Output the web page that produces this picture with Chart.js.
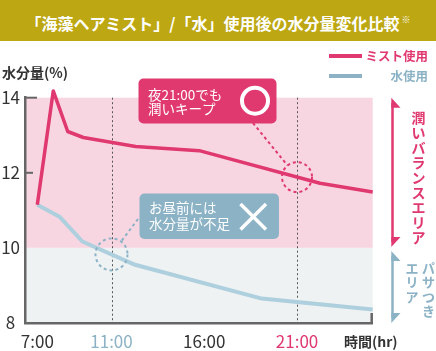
<!DOCTYPE html>
<html lang="ja">
<head>
<meta charset="utf-8">
<script src="https://cdn.jsdelivr.net/npm/chart.js@4.4.1/dist/chart.umd.min.js"></script>
<style>
body{margin:0;background:#fff;}
#wrap{position:relative;width:436px;height:351px;}
#wrap canvas{position:absolute;left:0;top:0;}
#title{position:absolute;left:0;top:0;width:436px;height:41px;background:#bda712;color:#fff;
  font:bold 16px 'Noto Sans CJK JP',sans-serif;text-align:center;line-height:40px;white-space:nowrap;}
#title sup{font-size:9px;vertical-align:7px;margin-left:2px;font-weight:normal;}
</style>
</head>
<body>
<div id="wrap">
  <canvas id="myChart" width="436" height="351"></canvas>
  <div id="title">「海藻ヘアミスト」/「水」使用後の水分量変化比較<sup>※</sup></div>
</div>
<script>
// data (hours / %)
const mistHours = [7, 7.86, 8.64, 9.48, 12.3, 15.73, 22.24, 25.08];
const mistValues = [11.15, 14.18, 13.1, 12.94, 12.7, 12.59, 11.72, 11.49];
const waterHours = [7, 8.22, 9.43, 12.27, 19.1, 25.08];
const waterValues = [11.15, 10.82, 10.17, 9.55, 8.65, 8.36];

const tickHours = [7, 11, 16, 21];
const tickLabels = ['7:00', '11:00', '16:00', '21:00'];
const markHours = [11, 21];
const bandSplit = 10;

const PINK = '#e0396f';
const BLUE_LINE = '#aecfdd';
const BLUE = '#8cb2c6';
const FONT = "'Noto Sans CJK JP', 'Noto Sans', sans-serif";
const tickColors = ['#333', BLUE, '#333', PINK];

Chart.defaults.font.family = FONT;

function valueAt(hours, values, h) {
  for (let i = 1; i < hours.length; i++) {
    if (h <= hours[i]) {
      const t = (h - hours[i - 1]) / (hours[i] - hours[i - 1]);
      return values[i - 1] + t * (values[i] - values[i - 1]);
    }
  }
  return values[values.length - 1];
}

function rrect(ctx, x, y, w, h, r) {
  ctx.beginPath();
  ctx.moveTo(x + r, y);
  ctx.lineTo(x + w - r, y); ctx.arcTo(x + w, y, x + w, y + r, r);
  ctx.lineTo(x + w, y + h - r); ctx.arcTo(x + w, y + h, x + w - r, y + h, r);
  ctx.lineTo(x + r, y + h); ctx.arcTo(x, y + h, x, y + h - r, r);
  ctx.lineTo(x, y + r); ctx.arcTo(x, y, x + r, y, r);
  ctx.closePath();
}

function dashCircle(ctx, cx, cy, r, color) {
  ctx.save();
  ctx.strokeStyle = color; ctx.lineWidth = 2; ctx.setLineDash([3, 3]);
  ctx.beginPath(); ctx.arc(cx, cy, r, 0, Math.PI * 2); ctx.stroke();
  ctx.restore();
}

function connector(ctx, x0, y0, cx, cy, r, color) {
  const dx = cx - x0, dy = cy - y0, len = Math.hypot(dx, dy);
  const k = (len - r) / len;
  ctx.save();
  ctx.strokeStyle = color; ctx.lineWidth = 2; ctx.setLineDash([3, 3]);
  ctx.beginPath(); ctx.moveTo(x0, y0); ctx.lineTo(x0 + dx * k, y0 + dy * k); ctx.stroke();
  ctx.restore();
}

function bracket(ctx, x, top, bot, color) {
  ctx.save();
  ctx.strokeStyle = color; ctx.fillStyle = color; ctx.lineWidth = 2.5;
  ctx.beginPath(); ctx.moveTo(x, top + 5); ctx.lineTo(x, bot - 5); ctx.stroke();
  ctx.beginPath(); ctx.moveTo(x - 1.2, top); ctx.lineTo(x + 8, top + 10); ctx.lineTo(x - 1.2, top + 10); ctx.fill();
  ctx.beginPath(); ctx.moveTo(x - 1.2, bot); ctx.lineTo(x + 8, bot - 10); ctx.lineTo(x - 1.2, bot - 10); ctx.fill();
  ctx.restore();
}

function vtext(ctx, str, x, y, step) {
  [...str].forEach((c, i) => ctx.fillText(c, x, y + i * step));
}

const deco = {
  id: 'deco',
  beforeDraw(chart) {
    const {ctx, chartArea: a, scales: {y}} = chart;
    const ys = y.getPixelForValue(bandSplit);
    ctx.save();
    ctx.fillStyle = '#f8d6e1';
    ctx.fillRect(a.left, a.top, a.right - a.left, ys - a.top);
    ctx.fillStyle = '#eef2f3';
    ctx.fillRect(a.left, ys, a.right - a.left, a.bottom - ys);
    ctx.restore();
  },
  beforeDatasetsDraw(chart) {
    const {ctx, chartArea: a, scales: {x}} = chart;
    ctx.save();
    ctx.strokeStyle = '#555'; ctx.lineWidth = 1; ctx.setLineDash([2, 2.5]);
    markHours.forEach(h => {
      const px = Math.round(x.getPixelForValue(h)) + 0.5;
      ctx.beginPath(); ctx.moveTo(px, a.top); ctx.lineTo(px, a.bottom); ctx.stroke();
    });
    ctx.restore();
  },
  afterDraw(chart) {
    const {ctx, chartArea: a, scales: {x, y}} = chart;
    ctx.save();
    // inner ticks on the y axis + right end tick
    ctx.strokeStyle = '#666'; ctx.lineWidth = 2;
    y.ticks.filter(t => t.value > bandSplit).forEach(t => {
      const py = y.getPixelForValue(t.value);
      ctx.beginPath(); ctx.moveTo(a.left, py); ctx.lineTo(a.left + (t.value === y.max ? 12 : 8), py); ctx.stroke();
    });
    ctx.lineWidth = 2.5;
    ctx.beginPath(); ctx.moveTo(a.right - 1, a.bottom); ctx.lineTo(a.right - 1, a.bottom - 10); ctx.stroke();

    // axis titles
    ctx.fillStyle = '#333'; ctx.textBaseline = 'middle';
    ctx.font = 'bold 14px ' + FONT; ctx.textAlign = 'left';
    ctx.fillText('水分量(%)', 2, 73);
    ctx.fillText('時間(hr)', 344, 342);

    // legend
    ctx.lineWidth = 4;
    ctx.strokeStyle = PINK; ctx.beginPath(); ctx.moveTo(329, 56); ctx.lineTo(362, 56); ctx.stroke();
    ctx.strokeStyle = BLUE; ctx.beginPath(); ctx.moveTo(329, 76); ctx.lineTo(362, 76); ctx.stroke();
    ctx.font = 'bold 12.5px ' + FONT; ctx.textAlign = 'right';
    ctx.fillStyle = PINK; ctx.fillText('ミスト使用', 428, 56);
    ctx.fillStyle = BLUE; ctx.fillText('水使用', 428, 76);

    // area brackets + vertical labels
    const ys = y.getPixelForValue(bandSplit);
    bracket(ctx, 392.5, a.top, ys - 1, PINK);
    bracket(ctx, 392.5, ys + 3, a.bottom, BLUE);
    ctx.textAlign = 'center';
    ctx.font = 'bold 14px ' + FONT; ctx.fillStyle = PINK;
    vtext(ctx, '潤いバランスエリア', 418.5, (a.top + ys) / 2 - 55, 15);
    ctx.font = 'bold 13px ' + FONT; ctx.fillStyle = BLUE;
    vtext(ctx, 'パサつき', 428.5, ys + 20, 14.4);
    vtext(ctx, 'エリア', 412, ys + 20, 14.4);

    // callout circles on the lines
    const pcx = x.getPixelForValue(21), pcy = y.getPixelForValue(valueAt(mistHours, mistValues, 21));
    const bcx = x.getPixelForValue(11), bcy = y.getPixelForValue(valueAt(waterHours, waterValues, 11));
    dashCircle(ctx, pcx, pcy, 15, PINK);
    dashCircle(ctx, bcx, bcy, 16, BLUE);
    connector(ctx, 253, 123, pcx, pcy, 15, PINK);
    connector(ctx, 138, 219, bcx, bcy, 16, BLUE);

    // callout boxes
    ctx.fillStyle = PINK; rrect(ctx, 138.5, 78.5, 138, 45, 5); ctx.fill();
    ctx.fillStyle = BLUE; rrect(ctx, 139.5, 193.5, 139.5, 45.5, 5); ctx.fill();
    ctx.fillStyle = '#fff'; ctx.textAlign = 'left'; ctx.font = '13.5px ' + FONT;
    ctx.fillText('夜21:00でも', 148, 94.5);
    ctx.fillText('潤いキープ', 148, 109);
    ctx.fillText('お昼前には', 149, 207.5);
    ctx.fillText('水分量が不足', 149, 224);
    ctx.strokeStyle = '#fff'; ctx.lineWidth = 4;
    ctx.beginPath(); ctx.arc(255, 100.7, 13, 0, Math.PI * 2); ctx.stroke();
    ctx.lineWidth = 3.5;
    ctx.beginPath();
    ctx.moveTo(240.5, 204); ctx.lineTo(266, 229.5);
    ctx.moveTo(266, 204); ctx.lineTo(240.5, 229.5);
    ctx.stroke();
    ctx.restore();
  }
};

const data = {
  datasets: [{
    label: 'ミスト使用',
    data: mistHours.map((h, i) => ({x: h, y: mistValues[i]})),
    borderColor: PINK,
    borderWidth: 3.5,
    clip: 12,
  }, {
    label: '水使用',
    data: waterHours.map((h, i) => ({x: h, y: waterValues[i]})),
    borderColor: BLUE_LINE,
    borderWidth: 4,
    clip: 12,
  }]
};

const config = {
  type: 'line',
  data,
  plugins: [deco],
  options: {
    responsive: false,
    animation: false,
    events: [],
    layout: {padding: {top: 97.7, right: 63.3, left: 0, bottom: 0}},
    elements: {
      point: {radius: 0},
      line: {tension: 0, borderJoinStyle: 'round', fill: false}
    },
    scales: {
      x: {
        type: 'linear',
        min: 6.337,
        max: 25.08,
        afterBuildTicks: s => { s.ticks = tickHours.map(v => ({value: v})); },
        afterFit: s => { s.height = 28; },
        grid: {display: false, drawTicks: false},
        border: {display: true, color: '#666', width: 2.5},
        ticks: {
          autoSkip: false,
          maxRotation: 0,
          padding: 8,
          font: {size: 17},
          color: c => tickColors[c.index],
          callback: (v, i) => tickLabels[i]
        }
      },
      y: {
        min: 8,
        max: 14,
        afterFit: s => { s.width = 25; },
        grid: {display: false, drawTicks: false},
        border: {display: true, color: '#666', width: 2.5},
        ticks: {
          stepSize: 2,
          padding: 5,
          crossAlign: 'center',
          font: {size: 17},
          color: '#333'
        }
      }
    },
    plugins: {
      legend: {display: false},
      tooltip: {enabled: false}
    }
  }
};

const myChart = new Chart(document.getElementById('myChart'), config);
</script>
</body>
</html>
